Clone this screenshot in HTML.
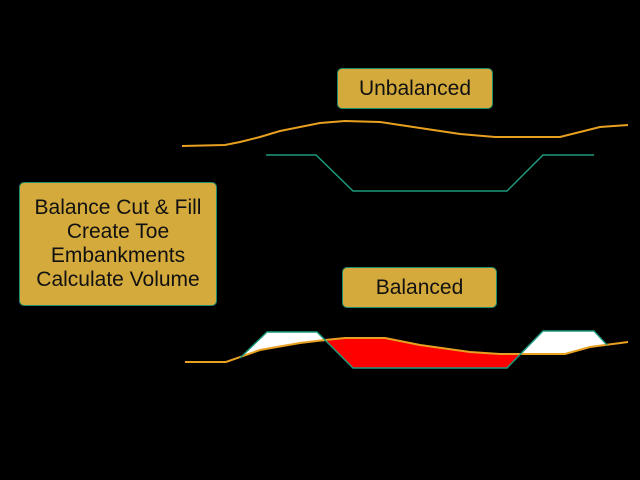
<!DOCTYPE html>
<html><head><style>
body{margin:0;background:#000;width:640px;height:480px;overflow:hidden;position:relative;font-family:"Liberation Sans",sans-serif}
.b{position:absolute;background:#d4aa3c;border:1.5px solid #1e8a6e;border-radius:5px;color:#111;text-align:center;box-sizing:border-box;display:flex;align-items:center;justify-content:center}
</style></head><body>
<svg width="640" height="480" style="position:absolute;left:0;top:0">
<polyline points="182,146 225,145 240,142 260,137 280,131 300,127 320,123 345,121 380,122 400,125 420,128 440,131 460,134 495,137 560,137 580,132 600,127 628,125" fill="none" stroke="#e8a020" stroke-width="2"/>
<polyline points="266,155 316,155 353,191 507,191 543,155 594,155" fill="none" stroke="#1e9a7e" stroke-width="1.5"/>
<polygon points="240,358 267,332 317,332 326,341 300,343 260,350" fill="#fff"/>
<polygon points="521,354 543,331 594,331 607,345 590,347 565,354" fill="#fff"/>
<polygon points="326,341 345,338 385,338 420,345 470,352 500,354 521,354 507,368 353,368" fill="#f00"/>
<polyline points="185,362 226,362 260,350 300,343 325,340 345,338 385,338 420,345 470,352 500,354 520,354 565,354 590,347 628,342" fill="none" stroke="#e8a020" stroke-width="2"/>
<polyline points="240,358 267,332 317,332 353,368 507,368 543,331 594,331 607,345" fill="none" stroke="#1e9a7e" stroke-width="1.5"/>
</svg>
<div class="b" style="left:337px;top:68px;width:156px;height:41px;font-size:21px">Unbalanced</div>
<div class="b" style="left:342px;top:267px;width:155px;height:41px;font-size:21px">Balanced</div>
<div class="b" style="left:19px;top:182px;width:198px;height:124px;font-size:21px;line-height:24px">Balance Cut &amp; Fill<br>Create Toe<br>Embankments<br>Calculate Volume</div>
</body></html>
